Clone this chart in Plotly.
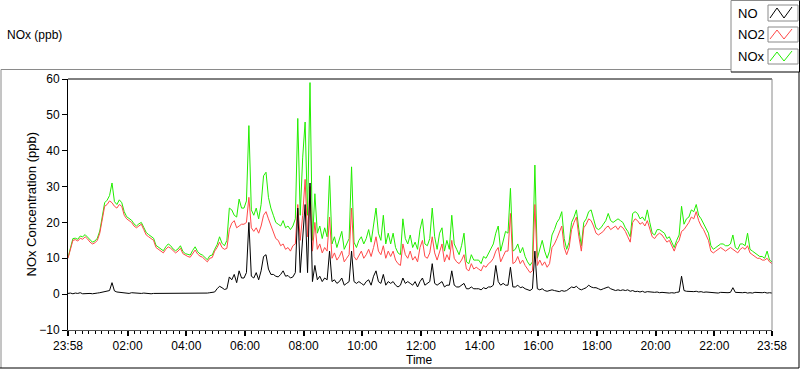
import plotly.graph_objects as go
import pandas as pd

# ---- data (5-minute samples from 23:58 to 23:58 next day) ----
start_time = "2024-01-01 23:58"
end_time = "2024-01-02 23:58"
n_points = 289

no_vals = [
    0.2, 0.3, 0.1, 0.3, 0.2, 0.4, 0.1, 0.2, 0.3, 0.2, 0.1, 0.3,
    0.3, 0.4, 0.5, 0.6, 0.8, 1.0, 3.2, 0.9, 0.6, 0.5, 0.4, 0.4,
    0.3, 0.2, 0.4, 0.3, 0.2, 0.3, 0.2, 0.3, 0.2, 0.3, 0.1, 0.2,
    0.2, 0.3, 0.2, 0.1, 0.3, 0.2, 0.2, 0.3, 0.1, 0.2, 0.3, 0.2,
    0.3, 0.2, 0.3, 0.2, 0.3, 0.2, 0.3, 0.2, 0.3, 0.3, 0.4, 0.5,
    0.6, 1.5, 2.2, 1.8, 1.3, 1.5, 4.8, 4.0, 5.5, 3.2, 6.5, 4.5,
    4.5, 6.0, 20.0, 5.0, 4.5, 6.0, 4.0, 6.5, 10.5, 11.0, 7.0, 5.5,
    5.5, 5.0, 4.8, 5.5, 6.5, 5.0, 5.2, 4.5, 4.8, 6.0, 24.0, 6.0,
    15.0, 25.0, 6.0, 31.0, 3.5, 8.0, 4.0, 5.0, 3.5, 4.5, 4.0, 12.0,
    3.5, 4.0, 3.0, 3.5, 4.5, 2.5, 3.0, 3.5, 12.0, 3.5, 3.0, 3.5,
    3.0, 2.5, 3.5, 4.0, 2.5, 5.0, 6.5, 3.5, 3.0, 5.5, 2.5, 3.5,
    3.0, 3.5, 2.5, 2.0, 2.5, 4.5, 3.0, 3.5, 3.0, 2.5, 3.5, 2.0,
    3.5, 4.5, 2.5, 3.0, 3.5, 8.5, 3.0, 2.5, 3.0, 3.5, 2.0, 2.5,
    2.5, 6.5, 2.5, 2.0, 2.0, 2.5, 3.0, 1.5, 1.5, 2.0, 1.5, 1.5,
    1.5, 1.2, 1.8, 1.5, 2.0, 2.0, 2.5, 8.0, 3.5, 2.5, 3.0, 2.5,
    2.5, 7.5, 2.0, 2.0, 2.5, 1.8, 2.0, 1.5, 1.2, 1.0, 1.5, 12.0,
    1.5, 1.2, 1.5, 1.0, 0.8, 1.0, 1.2, 1.0, 0.8, 0.7, 1.0, 0.8,
    1.0, 1.5, 2.0, 1.8, 2.2, 1.5, 1.2, 1.5, 1.8, 2.5, 2.0, 1.8,
    1.8, 1.5, 1.2, 1.5, 1.8, 2.0, 1.5, 1.2, 1.0, 1.2, 1.0, 1.2,
    1.0, 1.2, 0.8, 1.0, 0.7, 0.8, 0.6, 0.8, 0.5, 0.7, 0.6, 0.5,
    0.5, 0.6, 0.4, 0.5, 0.4, 0.5, 0.3, 0.4, 0.3, 0.5, 0.6, 5.0,
    1.0, 0.8, 0.7, 0.6, 0.7, 0.8, 0.6, 0.7, 0.5, 0.6, 0.5, 0.4,
    0.5, 0.4, 0.3, 0.5, 0.4, 0.3, 0.4, 0.5, 1.8, 0.5, 0.4, 0.3,
    0.4, 0.5, 0.3, 0.4, 0.3, 0.5, 0.4, 0.3, 0.4, 0.5, 0.3, 0.4, 0.3,
]

no2_vals = [
    10.0, 12.5, 15.0, 15.2, 14.8, 15.6, 15.3, 16.0, 15.4, 14.5, 14.0, 14.3,
    15.0, 17.0, 20.5, 24.5, 25.0, 26.0, 25.5, 24.5, 24.0, 25.0, 24.5, 22.0,
    21.0, 20.5, 20.0, 19.0, 18.5, 19.0, 19.5, 18.0, 16.5, 16.0, 15.5, 15.0,
    13.0, 12.5, 11.8, 11.5, 12.5, 13.2, 12.8, 12.0, 11.5, 12.0, 12.8, 11.3,
    10.8, 10.5, 10.3, 11.5, 12.3, 11.2, 10.6, 10.3, 9.5, 9.0, 10.0, 10.2,
    12.0, 13.0, 14.5, 13.0, 12.5, 12.8, 18.0, 19.8, 20.5, 18.5, 19.0, 19.5,
    19.5, 20.0, 27.0, 18.5, 17.5, 18.5, 17.0, 19.0, 22.0, 23.0, 21.0, 19.0,
    17.0, 15.5, 15.0, 13.5, 14.0, 12.5, 13.0, 12.0, 13.5, 14.0, 25.0, 15.0,
    22.0, 32.0, 16.0, 30.0, 12.0, 20.0, 12.5, 14.0, 11.5, 13.0, 12.0, 21.5,
    10.0, 11.5, 9.5, 10.5, 12.0, 9.0, 10.0, 11.0, 24.0, 10.5, 9.5, 11.0,
    12.0, 10.0, 11.0, 12.5, 10.5, 13.0, 16.0, 12.0, 11.0, 13.5, 10.0, 12.0,
    10.5, 12.0, 9.5, 8.5, 8.0, 14.0, 11.0, 10.0, 12.0, 9.5, 10.5, 9.0,
    13.0, 15.0, 10.5, 10.0, 11.5, 16.0, 11.5, 9.5, 12.0, 14.0, 9.0, 11.0,
    9.5, 15.0, 10.0, 9.0, 8.5, 9.5, 11.0, 7.0, 6.5, 8.5, 7.0, 7.5,
    7.0, 6.5, 8.0, 7.5, 8.5, 9.0, 10.0, 12.0, 13.0, 9.0, 10.5, 12.0,
    12.0, 22.5, 8.5, 9.0, 10.5, 8.5, 9.5, 8.0, 7.0, 6.0, 6.5, 25.0,
    8.0, 9.5, 8.0, 9.0, 7.5, 8.5, 13.0, 14.0, 15.5, 17.0, 19.0, 13.0,
    11.0, 13.0, 18.0, 20.0, 21.5, 16.0, 12.0, 18.5, 19.5, 21.0, 20.5, 19.0,
    17.0, 16.5, 17.0, 17.5, 18.5, 19.0, 18.0, 18.5, 19.0, 18.0, 19.0, 18.5,
    17.5, 16.0, 14.5, 20.0, 21.0, 20.5, 19.5, 20.0, 19.0, 20.5, 18.0, 16.0,
    15.5, 16.5, 17.0, 16.5, 15.5, 14.5, 15.0, 13.5, 12.0, 14.0, 15.0, 17.5,
    18.0, 19.0, 20.0, 21.5, 21.0, 23.0, 20.5, 19.0, 18.0, 16.5, 15.0, 12.0,
    11.5, 12.0, 12.5, 13.0, 12.5, 12.0, 12.5, 13.0, 12.5, 12.0, 11.5, 12.5,
    13.0, 12.5, 13.5, 11.5, 11.0, 10.5, 10.0, 10.0, 9.5, 9.5, 10.0, 9.0, 8.5,
]

nox_vals = [
    10.2, 13.0, 15.5, 15.6, 15.3, 16.2, 16.0, 16.6, 15.9, 15.0, 14.5, 14.8,
    15.6, 17.6, 21.5, 25.5, 26.2, 27.5, 31.0, 25.8, 25.0, 26.3, 25.5, 23.0,
    21.6, 21.0, 20.6, 19.6, 19.0, 19.6, 20.0, 18.6, 17.2, 16.6, 16.2, 15.6,
    13.6, 13.1, 12.4, 12.1, 13.2, 14.0, 13.5, 12.6, 12.1, 12.6, 13.5, 11.9,
    11.3, 11.0, 10.9, 12.2, 13.2, 11.9, 11.2, 10.9, 10.1, 9.6, 10.7, 10.9,
    12.5, 13.8, 16.0, 14.2, 13.5, 15.0, 24.0, 23.5, 22.0, 21.5, 26.5, 24.0,
    24.0, 26.0, 47.0, 23.5, 22.0, 24.0, 21.0, 25.0, 33.0, 34.0, 27.0, 24.0,
    22.0, 20.0, 19.5, 19.0, 20.5, 18.5, 19.0, 18.0, 19.0, 21.0, 49.0, 22.0,
    38.0, 48.0, 22.0, 59.0, 15.0, 28.0, 17.0, 19.0, 15.5, 18.5, 16.0, 33.0,
    14.0, 16.0, 13.0, 15.0, 17.5, 12.5, 14.0, 15.5, 35.5, 14.5, 13.0, 15.0,
    16.0, 14.0, 15.5, 18.0, 14.5, 20.0, 24.0, 17.0, 15.0, 22.0, 14.0, 17.0,
    14.0, 17.0, 13.0, 11.5, 11.0, 21.0, 15.5, 14.0, 16.5, 13.0, 14.5, 12.5,
    18.0, 21.0, 14.0, 13.5, 15.5, 24.0, 16.0, 12.5, 17.0, 18.5, 12.0, 15.0,
    12.5, 22.0, 14.0, 12.5, 11.0, 13.5, 17.0, 9.0, 8.5, 11.0, 9.5, 9.5,
    9.5, 8.5, 10.5, 10.0, 11.5, 12.5, 14.0, 17.0, 19.0, 12.0, 14.5, 17.5,
    17.0, 29.5, 12.0, 12.5, 14.0, 11.5, 13.0, 10.5, 9.0, 8.0, 9.0, 36.0,
    10.0, 12.5, 15.0, 12.0, 10.0, 12.0, 16.5, 18.0, 20.0, 21.0, 23.0, 15.5,
    12.5, 14.5, 20.0, 21.5, 23.5, 18.0, 13.5, 20.0, 21.0, 23.0, 23.5, 21.0,
    18.5, 18.0, 18.5, 19.5, 20.5, 22.5, 20.5, 20.0, 20.5, 21.0, 20.5, 20.0,
    18.5, 17.5, 16.0, 22.5, 23.0, 22.5, 21.0, 21.5, 20.5, 23.5, 20.0, 17.0,
    16.5, 18.0, 18.0, 17.5, 17.0, 15.5, 16.0, 14.5, 13.0, 15.0, 16.5, 24.5,
    19.5, 21.0, 21.5, 23.5, 23.0, 25.0, 22.0, 21.0, 19.5, 18.0, 17.0, 13.5,
    12.5, 13.0, 13.5, 14.0, 14.0, 13.5, 13.5, 14.0, 16.5, 13.0, 12.5, 14.0,
    14.0, 13.5, 17.0, 12.5, 12.0, 11.5, 11.0, 10.5, 10.5, 10.0, 12.0, 9.5, 9.0,
]

tick_times = ["2024-01-01 23:58", "2024-01-02 02:00", "2024-01-02 04:00",
              "2024-01-02 06:00", "2024-01-02 08:00", "2024-01-02 10:00",
              "2024-01-02 12:00", "2024-01-02 14:00", "2024-01-02 16:00",
              "2024-01-02 18:00", "2024-01-02 20:00", "2024-01-02 22:00",
              "2024-01-02 23:58"]
tick_labels = ["23:58", "02:00", "04:00", "06:00", "08:00", "10:00", "12:00",
               "14:00", "16:00", "18:00", "20:00", "22:00", "23:58"]
y_ticks = [-10, 0, 10, 20, 30, 40, 50, 60]
series_names = ["NO", "NO2", "NOx"]

times = pd.date_range(start_time, periods=n_points, freq="5min")

FONT = "Liberation Sans"
C_NO = "#000000"
C_NO2 = "#ff4848"
C_NOX = "#22ee00"

fig = go.Figure()
fig.add_trace(go.Scatter(x=times, y=nox_vals, mode="lines", name="NOx",
                         line=dict(color=C_NOX, width=1)))
fig.add_trace(go.Scatter(x=times, y=no2_vals, mode="lines", name="NO2",
                         line=dict(color=C_NO2, width=1)))
fig.add_trace(go.Scatter(x=times, y=no_vals, mode="lines", name="NO",
                         line=dict(color=C_NO, width=1)))

# pixel helpers (plot area: x 68..772, y 79..330)
L, R, T, B = 68, 772, 79, 330
def PX(px):
    return (px - L) / (R - L)
def PY(py):
    return (B - py) / (B - T)

shapes = []
def line(x0, y0, x1, y1, color, width=1):
    shapes.append(dict(type="line", xref="paper", yref="paper",
                       x0=PX(x0), y0=PY(y0), x1=PX(x1), y1=PY(y1),
                       line=dict(color=color, width=width), layer="above"))

# plot area frame
line(L, T, R, T, "#000000")
line(R, T, R, B, "#8a8a8a")
# outer frame
line(1, 69.5, 731, 69.5, "#8a8a8a")
line(1, 69.5, 1, 368, "#8a8a8a")
line(0, 368, 799, 368, "#000000")
line(799, 72, 799, 368, "#000000")
# legend frame
line(731, 0.5, 731, 72, "#8a8a8a")
line(731, 0.5, 799.5, 0.5, "#8a8a8a")
line(731, 72, 799.5, 72, "#000000")
line(799.5, 0.5, 799.5, 72, "#000000")

# legend swatches
leg_colors = [C_NO, C_NO2, C_NOX]
leg_rows = [(5, 21), (27, 42), (49, 64)]
annotations = []
for name, col, (y0, y1) in zip(series_names, leg_colors, leg_rows):
    shapes.append(dict(type="rect", xref="paper", yref="paper",
                       x0=PX(768), x1=PX(798), y0=PY(y0), y1=PY(y1),
                       line=dict(color="#8a8a8a", width=1), fillcolor="white",
                       layer="above"))
    path = "M {} {} L {} {} L {} {} L {} {}".format(
        PX(770), PY(y1 - 3), PX(777), PY(y0 + 3), PX(784), PY(y1 - 3),
        PX(792), PY(y0 + 2))
    shapes.append(dict(type="path", xref="paper", yref="paper", path=path,
                       line=dict(color=col, width=1), layer="above"))
    annotations.append(dict(text=name, xref="paper", yref="paper",
                            x=PX(736), y=PY((y0 + y1) / 2), xanchor="left",
                            yanchor="middle", showarrow=False,
                            font=dict(family=FONT, size=13, color="#000")))

annotations.append(dict(text="NOx (ppb)", xref="paper", yref="paper",
                        x=PX(5), y=PY(35), xanchor="left", yanchor="middle",
                        showarrow=False,
                        font=dict(family=FONT, size=12, color="#000")))
annotations.append(dict(text="NOx Concentration (ppb)", xref="paper",
                        yref="paper", x=PX(31), y=PY(204.5), textangle=-90,
                        xanchor="center", yanchor="middle", showarrow=False,
                        font=dict(family=FONT, size=13, color="#000")))
annotations.append(dict(text="Time", xref="paper", yref="paper",
                        x=PX(419), y=PY(360), xanchor="center",
                        yanchor="middle", showarrow=False,
                        font=dict(family=FONT, size=12, color="#000")))

fig.update_layout(
    width=800, height=369,
    margin=dict(l=L, r=800 - R, t=T, b=369 - B, pad=0),
    paper_bgcolor="white", plot_bgcolor="white",
    showlegend=False,
    shapes=shapes, annotations=annotations,
    font=dict(family=FONT, size=12, color="#000"),
)
fig.update_xaxes(
    type="date", range=[start_time, end_time],
    tickmode="array", tickvals=tick_times, ticktext=tick_labels,
    ticks="outside", ticklen=5, tickwidth=2, tickcolor="#000",
    showline=True, linecolor="#555555", linewidth=1,
    showgrid=False, zeroline=False,
    tickfont=dict(family=FONT, size=12, color="#000"),
    minor=dict(ticks="outside", ticklen=3, tickwidth=1, tickcolor="#000",
               dtick=800000, tick0="2024-01-02 02:00", showgrid=False),
)
fig.update_yaxes(
    range=[-10, 60], tickmode="array", tickvals=y_ticks,
    ticks="outside", ticklen=5, tickwidth=1, tickcolor="#000",
    showline=True, linecolor="#000", linewidth=1,
    showgrid=False, zeroline=False,
    tickfont=dict(family=FONT, size=12, color="#000"),
)

fig.write_html(
    "out.html",
    config={"displayModeBar": False},
    post_script="document.body.style.margin='0';document.body.style.padding='0';"
                "document.documentElement.style.overflow='hidden';",
)
